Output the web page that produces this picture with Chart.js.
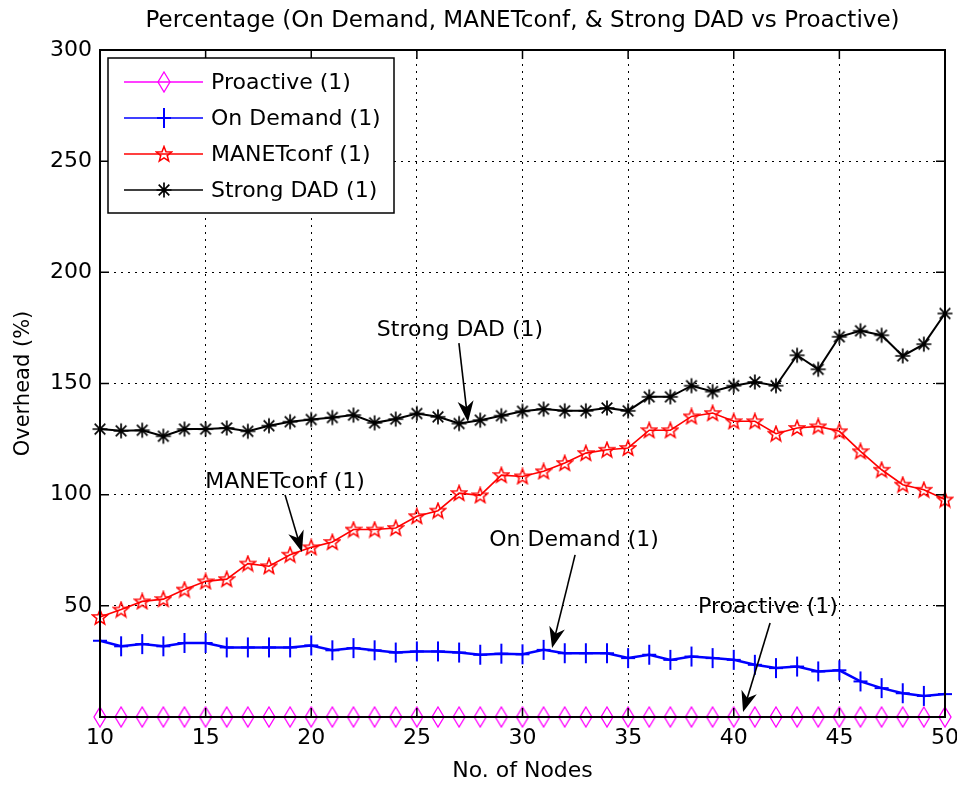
<!DOCTYPE html>
<html>
<head>
<meta charset="utf-8">
<title>Overhead percentage</title>
<script src="https://cdn.jsdelivr.net/npm/chart.js@4/dist/chart.umd.min.js"></script>
<style>
  html, body { margin: 0; padding: 0; background: #fff; }
  #wrap { width: 957px; height: 785px; }
</style>
</head>
<body>
<div id="wrap"><canvas id="overheadChart" width="957" height="785"></canvas></div>
<script>
"use strict";

// number of nodes on the x axis
const nodes = [10, 11, 12, 13, 14, 15, 16, 17, 18, 19, 20, 21, 22, 23, 24, 25, 26, 27, 28, 29,
    30, 31, 32, 33, 34, 35, 36, 37, 38, 39, 40, 41, 42, 43, 44, 45, 46, 47, 48, 49, 50];

// overhead in percent for each scheme
const proactive = [0, 0, 0, 0, 0, 0, 0, 0, 0, 0, 0, 0, 0, 0, 0, 0, 0, 0, 0, 0,
    0, 0, 0, 0, 0, 0, 0, 0, 0, 0, 0, 0, 0, 0, 0, 0, 0, 0, 0, 0, 0];
const onDemand = [34.3, 31.8, 32.8, 31.8, 33.3, 33.3, 31.3, 31.3, 31.3, 31.3,
    32.2, 30, 31, 30, 29, 29.5, 29.5, 29, 28, 28.5,
    28.2, 30.2, 28.7, 28.7, 28.7, 26.5, 28, 25.7, 27.2, 26.5,
    25.7, 23.5, 22, 22.7, 20.5, 21, 16, 13, 10.7, 9.5, 10.3];
const manetConf = [45, 48.3, 52, 53, 57.3, 61, 62, 69, 67.8, 73,
    76.3, 78.7, 84.3, 84.3, 85, 90.3, 92.8, 100.7, 99.7, 108.8,
    108.2, 110.5, 114.2, 118.7, 120.2, 121, 129, 129, 135.2, 136.7,
    133, 133, 127.4, 130, 130.7, 128.5, 119.5, 111.2, 104.5, 102.2, 97.8];
const strongDad = [129.5, 128.7, 129, 126.3, 129.5, 129.5, 130, 128.5, 131, 132.8,
    133.8, 134.7, 135.8, 132.3, 134, 136.5, 135, 132, 133.5, 135.5,
    137.5, 138.5, 137.7, 137.7, 139, 137.7, 144, 144, 149, 146.4,
    149, 150.7, 149, 162.7, 156.4, 171, 173.7, 171.7, 162.4, 167.7, 181.5];

// text arrows inside the plot (data units)
const noteLabels = ["Strong DAD (1)", "MANETconf (1)", "On Demand (1)", "Proactive (1)"];
const noteTextX = [27.04, 18.76, 32.44, 41.62];
const noteTextY = [174, 105.7, 79.6, 49.5];
const noteTailX = [26.99, 18.76, 32.49, 41.72];
const noteTailY = [168.2, 99.9, 72.9, 42.3];
const noteTipX = [27.42, 19.56, 31.40, 40.44];
const noteTipY = [132.7, 74.2, 31.0, 2.2];

const chartTitle = 'Percentage (On Demand, MANETconf, & Strong DAD vs Proactive)';
const FONT = "'DejaVu Sans', sans-serif";

function marker(w, h, draw) {
    const c = document.createElement('canvas');
    c.width = w;
    c.height = h;
    draw(c.getContext('2d'), w, h);
    return c;
}

const diamond = marker(16, 22, (g, w, h) => {
    g.strokeStyle = '#ff00ff';
    g.lineWidth = 1.3;
    g.beginPath();
    g.moveTo(w / 2, 1);
    g.lineTo(w - 2, h / 2);
    g.lineTo(w / 2, h - 1);
    g.lineTo(2, h / 2);
    g.closePath();
    g.stroke();
});

const plus = marker(16, 22, (g, w, h) => {
    g.strokeStyle = '#0000ff';
    g.lineWidth = 2;
    g.beginPath();
    g.moveTo(w / 2, 1);
    g.lineTo(w / 2, h - 1);
    g.moveTo(1, h / 2);
    g.lineTo(w - 1, h / 2);
    g.stroke();
});

const star = marker(18, 18, (g, w, h) => {
    g.strokeStyle = '#ff0000';
    g.lineWidth = 1.5;
    g.beginPath();
    for (let i = 0; i < 10; i++) {
        const r = i % 2 === 0 ? 8 : 3.4;
        const a = -Math.PI / 2 + i * Math.PI / 5;
        const px = w / 2 + r * Math.cos(a);
        const py = h / 2 + 0.5 + r * Math.sin(a);
        if (i === 0) g.moveTo(px, py); else g.lineTo(px, py);
    }
    g.closePath();
    g.stroke();
});

const asterisk = marker(18, 18, (g, w, h) => {
    g.strokeStyle = '#000';
    g.lineWidth = 1.7;
    g.beginPath();
    for (let i = 0; i < 4; i++) {
        const a = i * Math.PI / 4;
        const dx = 7.5 * Math.cos(a), dy = 7.5 * Math.sin(a);
        g.moveTo(w / 2 - dx, h / 2 - dy);
        g.lineTo(w / 2 + dx, h / 2 + dy);
    }
    g.stroke();
});

function series(values) {
    return values.map((v, i) => ({ x: nodes[i], y: v }));
}

// box, inward ticks, title over the axes, legend and the arrow notes
const matlabFrame = {
    id: 'matlabFrame',
    beforeDraw(chart) {
        const ctx = chart.ctx;
        ctx.save();
        ctx.fillStyle = '#fff';
        ctx.fillRect(0, 0, chart.width, chart.height);
        ctx.restore();
    },
    afterDatasetsDraw(chart) {
        const ctx = chart.ctx;
        const a = chart.chartArea;
        const xs = chart.scales.x, ys = chart.scales.y;
        ctx.save();

        // title centred over the plot box
        ctx.fillStyle = '#000';
        ctx.font = '23px ' + FONT;
        ctx.textAlign = 'center';
        ctx.textBaseline = 'middle';
        ctx.fillText(chartTitle, (a.left + a.right) / 2, a.top - 29);

        // arrows with text
        ctx.font = '22px ' + FONT;
        ctx.strokeStyle = '#000';
        noteLabels.forEach((label, i) => {
            ctx.fillText(label, xs.getPixelForValue(noteTextX[i]), ys.getPixelForValue(noteTextY[i]));
            const x0 = xs.getPixelForValue(noteTailX[i]), y0 = ys.getPixelForValue(noteTailY[i]);
            const x1 = xs.getPixelForValue(noteTipX[i]), y1 = ys.getPixelForValue(noteTipY[i]);
            const ang = Math.atan2(y1 - y0, x1 - x0);
            const len = 21, half = 8;
            ctx.lineWidth = 1.6;
            ctx.beginPath();
            ctx.moveTo(x0, y0);
            ctx.lineTo(x1 - Math.cos(ang) * len * 0.6, y1 - Math.sin(ang) * len * 0.6);
            ctx.stroke();
            const bx = x1 - Math.cos(ang) * len, by = y1 - Math.sin(ang) * len;
            const nx = -Math.sin(ang), ny = Math.cos(ang);
            ctx.beginPath();
            ctx.moveTo(x1, y1);
            ctx.lineTo(bx + nx * half, by + ny * half);
            ctx.lineTo(x1 - Math.cos(ang) * len * 0.7, y1 - Math.sin(ang) * len * 0.7);
            ctx.lineTo(bx - nx * half, by - ny * half);
            ctx.closePath();
            ctx.fill();
        });

        // axes box with ticks pointing inwards
        ctx.lineWidth = 2;
        ctx.strokeRect(a.left, a.top, a.right - a.left, a.bottom - a.top);
        ctx.lineWidth = 1.5;
        ctx.beginPath();
        xs.ticks.forEach(t => {
            const px = xs.getPixelForValue(t.value);
            ctx.moveTo(px, a.bottom); ctx.lineTo(px, a.bottom - 9);
            ctx.moveTo(px, a.top); ctx.lineTo(px, a.top + 9);
        });
        ys.ticks.forEach(t => {
            const py = ys.getPixelForValue(t.value);
            ctx.moveTo(a.left, py); ctx.lineTo(a.left + 9, py);
            ctx.moveTo(a.right, py); ctx.lineTo(a.right - 9, py);
        });
        ctx.stroke();

        // legend
        const lx = a.left + 8, ly = a.top + 8, lw = 286, lh = 155;
        ctx.fillStyle = '#fff';
        ctx.fillRect(lx, ly, lw, lh);
        ctx.lineWidth = 1.5;
        ctx.strokeStyle = '#000';
        ctx.strokeRect(lx, ly, lw, lh);
        ctx.textAlign = 'left';
        ctx.font = '22px ' + FONT;
        chart.data.datasets.forEach((ds, i) => {
            const ry = ly + 24 + i * 36;
            ctx.strokeStyle = ds.borderColor;
            ctx.lineWidth = 1.5;
            ctx.beginPath();
            ctx.moveTo(lx + 16, ry);
            ctx.lineTo(lx + 95, ry);
            ctx.stroke();
            const m = ds.pointStyle;
            ctx.drawImage(m, lx + 56 - m.width / 2, ry - m.height / 2);
            ctx.fillStyle = '#000';
            ctx.fillText(ds.label, lx + 103, ry + 1);
        });
        ctx.restore();
    }
};

const ctx = document.getElementById('overheadChart').getContext('2d');

new Chart(ctx, {
    type: 'line',
    data: {
        datasets: [{
            label: 'Proactive (1)',
            data: series(proactive),
            borderColor: '#ff00ff',
            borderWidth: 1.5,
            pointStyle: diamond
        }, {
            label: 'On Demand (1)',
            data: series(onDemand),
            borderColor: '#0000ff',
            borderWidth: 2.5,
            pointStyle: plus
        }, {
            label: 'MANETconf (1)',
            data: series(manetConf),
            borderColor: '#ff0000',
            borderWidth: 1.6,
            pointStyle: star
        }, {
            label: 'Strong DAD (1)',
            data: series(strongDad),
            borderColor: '#000000',
            borderWidth: 2,
            pointStyle: asterisk
        }]
    },
    options: {
        responsive: false,
        animation: false,
        clip: false,
        layout: {
            padding: { left: 0, right: 12, top: 50, bottom: 0 }
        },
        elements: {
            line: { tension: 0, fill: false },
            point: { radius: 8, hoverRadius: 8 }
        },
        scales: {
            x: {
                type: 'linear',
                min: 10,
                max: 50,
                afterFit: s => {
                    s.height = 68;
                    s.paddingLeft = 0;
                    s.paddingRight = 0;
                },
                ticks: {
                    stepSize: 5,
                    color: '#000',
                    padding: 8,
                    maxRotation: 0,
                    font: { family: FONT, size: 22 }
                },
                grid: { color: '#000', lineWidth: 1, drawTicks: false },
                border: { display: false, dash: [2, 5] },
                title: {
                    display: true,
                    text: 'No. of Nodes',
                    color: '#000',
                    font: { family: FONT, size: 22 },
                    padding: { top: 0, bottom: 1 }
                }
            },
            y: {
                min: 0,
                max: 300,
                afterFit: s => {
                    s.width = 100;
                    s.paddingTop = 0;
                    s.paddingBottom = 0;
                },
                ticks: {
                    stepSize: 50,
                    color: '#000',
                    padding: 8,
                    font: { family: FONT, size: 22 },
                    callback: v => (v === 0 ? '' : v)
                },
                grid: { color: '#000', lineWidth: 1, drawTicks: false },
                border: { display: false, dash: [2, 5] },
                title: {
                    display: true,
                    text: 'Overhead (%)',
                    color: '#000',
                    font: { family: FONT, size: 21 },
                    padding: { top: 11, bottom: 0 }
                }
            }
        },
        plugins: {
            legend: { display: false },
            tooltip: { enabled: false },
            title: { display: false }
        }
    },
    plugins: [matlabFrame]
});
</script>
</body>
</html>
